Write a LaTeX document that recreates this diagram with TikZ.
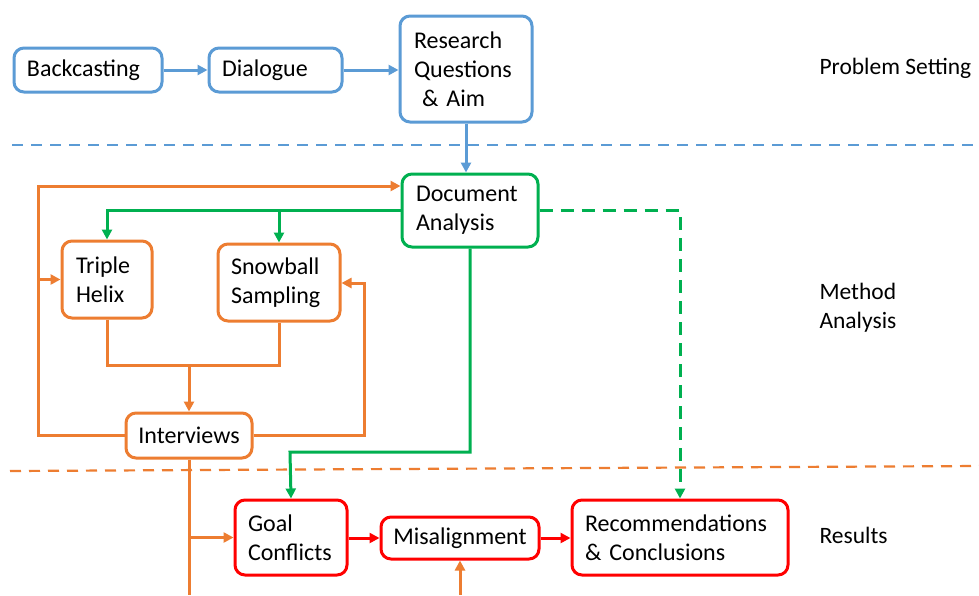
\documentclass[tikz,border=0pt]{standalone}
\usepackage{fontspec}
\setmainfont{Carlito}
\usetikzlibrary{arrows.meta}
\definecolor{cblue}{HTML}{5B9BD5}
\definecolor{corange}{HTML}{ED7D31}
\definecolor{cgreen}{HTML}{00B050}
\definecolor{cred}{HTML}{FF0000}
\tikzset{
  box/.style={draw=#1, line width=3pt, rounded corners=10pt, fill=white,
    inner xsep=0pt, inner ysep=0pt, align=left,
    font=\fontsize{24}{29}\selectfont},
  link/.style={draw=#1, line width=3pt},
  tip/.style={-{Triangle[length=10pt,width=10pt]}},
  lane/.style={font=\fontsize{23.5}{29}\selectfont, anchor=west, align=left},
  sep/.style={draw=#1, line width=2.2pt, dash pattern=on 11pt off 8pt}
}
\begin{document}
\begin{tikzpicture}[x=1pt, y=-1pt]
\useasboundingbox[fill=white] (0,0) rectangle (979,595);

% section separators
\draw[sep=cblue] (12,145) -- (979,145);
\draw[sep=corange] (10,471) -- (979,466);

% section labels
\node[lane] (lps) at (816,68) {Problem Setting};
\node[lane] (lma) at (816,308) {Method\\Analysis};
\node[lane] (lres) at (816,535) {Results};

% problem setting
\node[box=cblue, minimum width=148pt, minimum height=44pt, text width=122pt] (back) at (88,70) {Backcasting};
\node[box=cblue, minimum width=133pt, minimum height=44pt, text width=107pt] (dia) at (275.5,70) {Dialogue};
\node[box=cblue, minimum width=132pt, minimum height=106pt, text width=104pt] (rq) at (466,69) {Research\\Questions\\\ \& Aim};

% method analysis
\node[box=cgreen, minimum width=136pt, minimum height=73pt, text width=108pt] (doc) at (470,210.5) {Document\\Analysis};
\node[box=corange, minimum width=90pt, minimum height=77pt, text width=62pt] (tri) at (107,279.5) {Triple\\Helix};
\node[box=corange, minimum width=122pt, minimum height=77pt, text width=96pt] (snow) at (279,282.5) {Snowball\\Sampling};
\node[box=corange, minimum width=126pt, minimum height=45pt, align=center] (int) at (189,435.5) {Interviews};

% results
\node[box=cred, minimum width=112pt, minimum height=75pt, text width=86pt] (goal) at (291,537.5) {Goal\\Conflicts};
\node[box=cred, minimum width=158pt, minimum height=42pt, align=center] (mis) at (460,538) {Misalignment};
\node[box=cred, minimum width=216pt, minimum height=75pt, text width=190pt] (rec) at (680,537.5) {Recommendations\\\& Conclusions};

% helper points
\coordinate (lx) at (38,186);
\coordinate (rx) at (364,283);
\coordinate (mid) at (189,365);
\coordinate (gy) at (290,452);
\coordinate (bot) at (189,595);

% blue flow
\draw[link=cblue, tip] (back) -- (dia);
\draw[link=cblue, tip] (dia) -- (rq.west |- dia);
\draw[link=cblue, tip] (rq.south) -- (doc.north -| rq.south);

% orange feedback loops
\draw[link=corange, tip] (int.west) -| (lx) -- (doc.west |- lx);
\draw[link=corange, tip] (lx |- tri.west) -- (tri.west);
\draw[link=corange] (tri.south) |- (mid) -| (snow.south);
\draw[link=corange, tip] (mid) -- (int.north);
\draw[link=corange, tip] (int.east) -| (rx) -- (snow.east |- rx);
\draw[link=corange] (int.south) -- (bot);
\draw[link=corange, tip] (bot |- goal.west) -- (goal.west);
\draw[link=corange, tip] (mis.south |- bot) -- (mis.south);

% green flow
\draw[link=cgreen, tip] (doc.west) -| (tri.north);
\draw[link=cgreen, tip] (snow.north |- doc.west) -- (snow.north);
\draw[link=cgreen, tip] (doc.south) |- (gy) -- (goal.north);
\draw[link=cgreen, tip, dash pattern=on 13pt off 8pt] (doc.east) -| (rec.north);

% red flow
\draw[link=cred, tip] (goal.east |- mis.west) -- (mis.west);
\draw[link=cred, tip] (mis.east) -- (rec.west |- mis.east);
\end{tikzpicture}
\end{document}
